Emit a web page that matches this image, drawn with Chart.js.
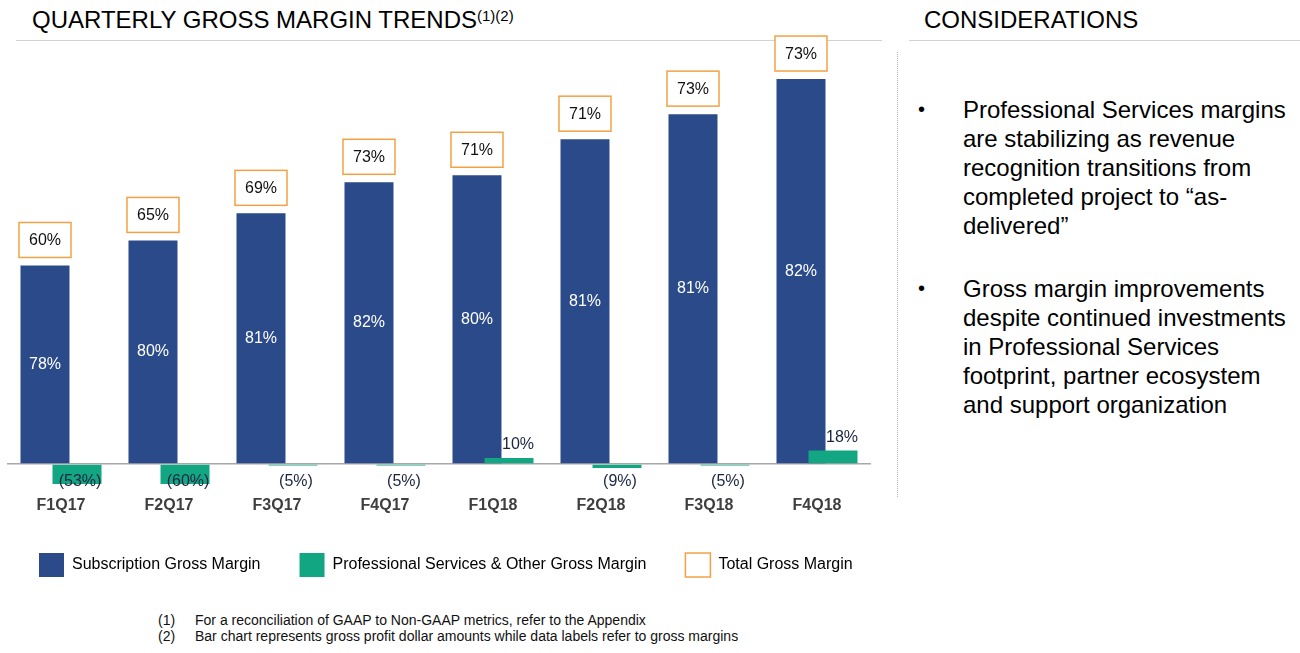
<!DOCTYPE html>
<html>
<head>
<meta charset="utf-8">
<script src="https://cdn.jsdelivr.net/npm/chart.js@4.4.0/dist/chart.umd.min.js"></script>
<style>
  body { margin: 0; background: #fff; font-family: 'Liberation Sans', Arial, sans-serif; color: #000; }
  #page { position: relative; width: 1300px; height: 653px; overflow: hidden; }
  .head { position: absolute; top: 6px; font-size: 24px; line-height: 28px; white-space: nowrap; }
  .head sup { font-size: 15px; vertical-align: 0; position: relative; top: -7px; }
  .rule { position: absolute; top: 40px; height: 0; border-top: 1.5px solid #d2d2d2; }
  .vline { position: absolute; left: 897px; top: 52px; height: 445px; border-left: 1px dotted #b8b8b8; }
  #chart1 { position: absolute; left: 0; top: 0; }
  .bullets { position: absolute; left: 918px; top: 95px; width: 380px; font-size: 24px; line-height: 29px; }
  .bullets .item { position: relative; padding-left: 45px; margin-bottom: 34px; white-space: nowrap; }
  .bullets .item span { position: absolute; left: 0; top: 0; font-size: 20px; }
  .notes { position: absolute; left: 158px; top: 612px; font-size: 14px; line-height: 16px; color: #111; }
  .notes div { position: relative; padding-left: 37px; white-space: nowrap; }
  .notes div span { position: absolute; left: 0; }
</style>
</head>
<body>
<div id="page">
  <div class="head" style="left:32px">QUARTERLY GROSS MARGIN TRENDS<sup>(1)(2)</sup></div>
  <div class="rule" style="left:16px; width:866px"></div>
  <div class="head" style="left:924px">CONSIDERATIONS</div>
  <div class="rule" style="left:909px; width:391px"></div>
  <canvas id="chart1" width="895" height="600"></canvas>
  <div class="vline"></div>
  <div class="bullets">
    <div class="item"><span>&bull;</span>Professional Services margins<br>are stabilizing as revenue<br>recognition transitions from<br>completed project to &ldquo;as-<br>delivered&rdquo;</div>
    <div class="item"><span>&bull;</span>Gross margin improvements<br>despite continued investments<br>in Professional Services<br>footprint, partner ecosystem<br>and support organization</div>
  </div>
  <div class="notes">
    <div><span>(1)</span>For a reconciliation of GAAP to Non-GAAP metrics, refer to the Appendix</div>
    <div><span>(2)</span>Bar chart represents gross profit dollar amounts while data labels refer to gross margins</div>
  </div>
</div>
<script>
// quarters and values (bar heights are relative gross profit $)
var quarters = ["F1Q17", "F2Q17", "F3Q17", "F4Q17", "F1Q18", "F2Q18", "F3Q18", "F4Q18"];
var subscriptionProfit = [99, 111.5, 125, 140.5, 144, 162, 174.5, 192];
var servicesProfit = [-10, -10, -0.8, -0.8, 3, -2, -0.8, 6.7];
var subscriptionMargin = [78, 80, 81, 82, 80, 81, 81, 82];
var servicesMargin = [-53, -60, -5, -5, 10, -9, -5, 18];
var totalMargin = [60, 65, 69, 73, 71, 71, 73, 73];
var seriesNames = ["Subscription Gross Margin", "Professional Services & Other Gross Margin", "Total Gross Margin"];

var NAVY = '#2B4A89', GREEN = '#13A682', ORANGE = '#F3A145';
var FONT = "'Liberation Sans', Arial, sans-serif";
Chart.defaults.font.family = FONT;

function pct(v) { return v < 0 ? '(' + (-v) + '%)' : v + '%'; }

// labels: inside navy bars, boxed totals above them, small labels by the green bars
var marginLabels = {
  id: 'marginLabels',
  afterDatasetsDraw: function(chart) {
    var ctx = chart.ctx;
    var sub = chart.getDatasetMeta(0).data;
    var ps = chart.getDatasetMeta(2).data;
    ctx.save();
    ctx.font = '16px ' + FONT;
    ctx.textAlign = 'center';
    ctx.textBaseline = 'middle';
    sub.forEach(function(bar, i) {
      ctx.fillStyle = '#fff';
      ctx.fillText(pct(subscriptionMargin[i]), bar.x, (bar.y + bar.base) / 2);
      var txt = pct(totalMargin[i]);
      var w = ctx.measureText(txt).width + 20, h = 35;
      var top = bar.y - 8 - h;
      ctx.fillStyle = '#fff';
      ctx.fillRect(bar.x - w / 2, top, w, h);
      ctx.strokeStyle = ORANGE;
      ctx.lineWidth = 1.5;
      ctx.strokeRect(bar.x - w / 2, top, w, h);
      ctx.fillStyle = '#111';
      ctx.fillText(txt, bar.x, top + h / 2 + 1);
    });
    ps.forEach(function(bar, i) {
      ctx.fillStyle = '#1b2440';
      if (servicesMargin[i] >= 0) {
        ctx.fillText(pct(servicesMargin[i]), bar.x + 9, bar.y - 13);
      } else {
        ctx.fillText(pct(servicesMargin[i]), bar.x + 3, bar.base + 17);
      }
    });
    ctx.restore();
  }
};

var ctx = document.getElementById("chart1").getContext('2d');
var chart1 = new Chart(ctx, {
  type: 'bar',
  data: {
    labels: quarters,
    datasets: [{
      label: seriesNames[0],
      data: subscriptionProfit,
      backgroundColor: NAVY,
      stack: 'sub', order: 1
    }, {
      // empty, only puts the 'sub' slot first so the green bars can sit on top
      label: '', data: quarters.map(function() { return null; }), stack: 'sub', order: -2
    }, {
      label: seriesNames[1],
      data: servicesProfit,
      backgroundColor: GREEN,
      stack: 'ps', order: 0
    }]
  },
  options: {
    responsive: false,
    animation: false,
    categoryPercentage: 0.593,
    barPercentage: 1.53,
    layout: { padding: { left: 0, right: 0, top: 60, bottom: 13 } },
    plugins: {
      tooltip: { enabled: false },
      legend: {
        position: 'bottom',
        align: 'start',
        labels: {
          boxWidth: 25, boxHeight: 24, padding: 39,
          color: '#111', font: { size: 16 },
          generateLabels: function() {
            return [
              { text: seriesNames[0], fillStyle: NAVY, strokeStyle: NAVY, lineWidth: 0, datasetIndex: 0 },
              { text: seriesNames[1], fillStyle: GREEN, strokeStyle: GREEN, lineWidth: 0, datasetIndex: 2 },
              { text: seriesNames[2], fillStyle: '#fff', strokeStyle: ORANGE, lineWidth: 1.5 }
            ];
          }
        }
      }
    },
    scales: {
      x: {
        offset: true,
        grid: { display: false, drawTicks: false },
        border: { display: false },
        ticks: { color: '#3f3f3f', font: { size: 16, weight: 'bold' }, padding: 8 },
        afterFit: function(s) { s.height = 26; }
      },
      y: {
        position: 'left',
        min: -12, max: 201.5,
        grid: {
          drawTicks: false, lineWidth: 1.5,
          color: function(c) { return c.tick && c.tick.value === 0 ? '#a8a8a8' : 'rgba(0,0,0,0)'; }
        },
        border: { display: false },
        ticks: { display: false },
        afterBuildTicks: function(s) { s.ticks = [{ value: 0 }]; },
        afterFit: function(s) { s.width = 7; }
      },
      yRight: {
        position: 'right',
        grid: { display: false, drawTicks: false },
        border: { display: false },
        ticks: { display: false },
        afterFit: function(s) { s.width = 24; }
      }
    }
  },
  plugins: [marginLabels]
});
</script>
</body>
</html>
